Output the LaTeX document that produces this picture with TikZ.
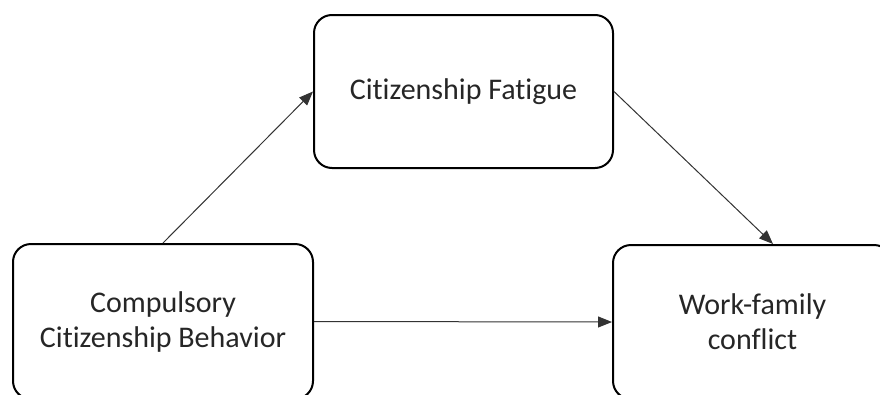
\documentclass[tikz,border=0pt]{standalone}
\usepackage{fontspec}
\setmainfont{Carlito}[Ligatures=NoCommon]
\usepackage{tikz}
\usetikzlibrary{arrows.meta}
\usetikzlibrary{calc}
\tikzstyle{box}=[rectangle, draw, rounded corners=18pt, line width=2pt, align=center, inner sep=0pt, text=black!85]

\begin{document}
\begin{tikzpicture}[x=1pt, y=-1pt]
\tikzset{>={Triangle[length=14pt, width=11pt]}}

\tikzset{every node/.style={font=\fontsize{30pt}{35pt}\selectfont}}

\useasboundingbox (0,0) rectangle (880,394);
\clip (0,0) rectangle (880,394);

%  all lines
\tikzset{every path/.style={line width=1pt}}

% Boxes
\node[box, minimum width=299pt, minimum height=153pt] (cf) at (463.5,91.5) {Citizenship Fatigue};
\node[box, minimum width=300pt, minimum height=155pt] (ccb) at (163,321.5) {Compulsory\\Citizenship Behavior};
\node[box, minimum width=279pt, minimum height=154pt] (wfc) at (752.5,322) {Work-family\\conflict};

% Arrows
\draw[->, black!80] (ccb.north) to (cf.west);
\draw[->, black!80] (cf.east) to ($(wfc.north west)!0.573!(wfc.north east)$);
\draw[->, black!80] (ccb.east) to (wfc.west);

\end{tikzpicture}
\end{document}
